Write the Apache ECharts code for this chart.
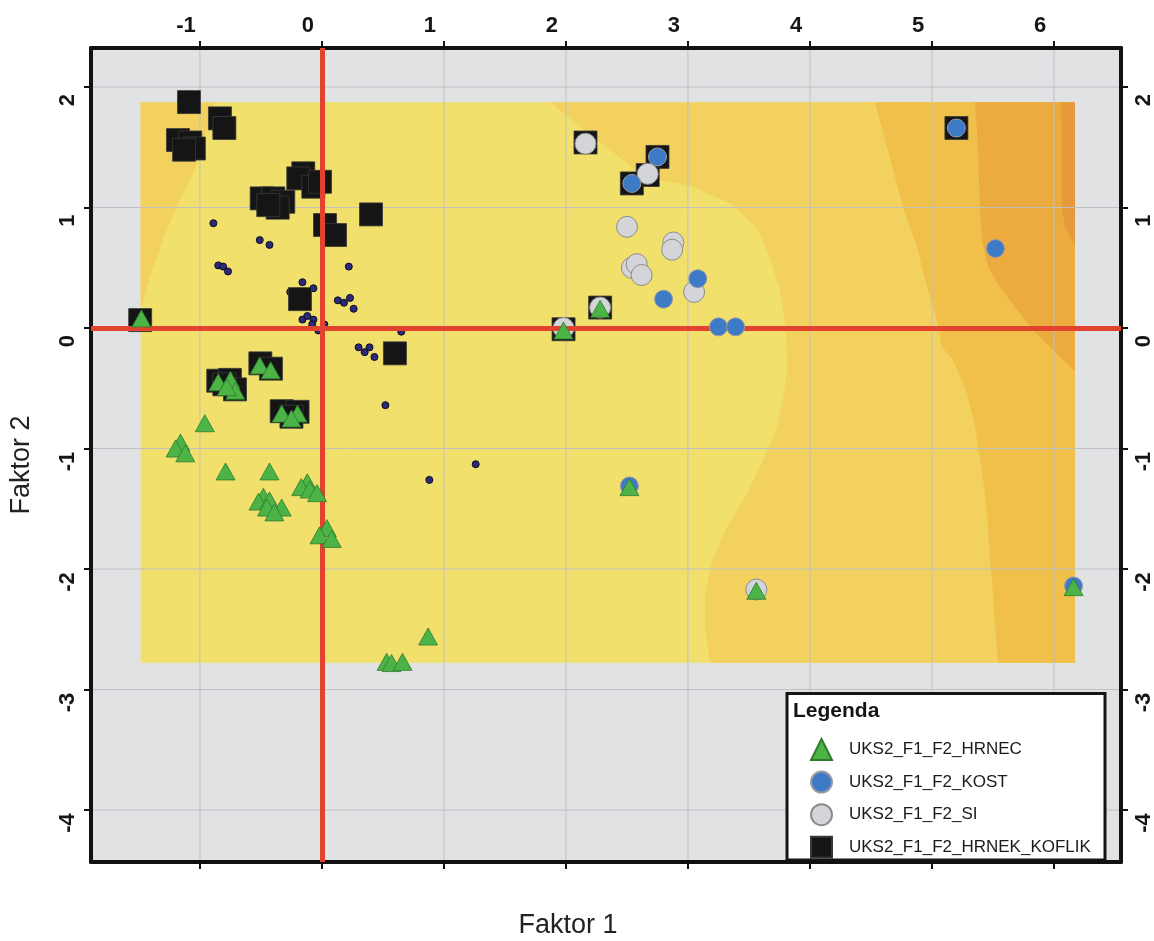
<!DOCTYPE html>
<html>
<head>
<meta charset="utf-8">
<script src="https://cdn.jsdelivr.net/npm/echarts@6/dist/echarts.min.js"></script>
<style>html,body{margin:0;padding:0;background:#fff;overflow:hidden}#chart{width:1154px;height:941px}</style>
</head>
<body>
<div id="chart"></div>
<script>
// ---------------- data ----------------
const X_MIN = -1.893, X_MAX = 6.549;
const Y_MIN = -4.431, Y_MAX = 2.324;
const xTickValues = [-1, 0, 1, 2, 3, 4, 5, 6];
const yTickValues = [-4, -3, -2, -1, 0, 1, 2];

const seriesNames = ['UKS2_F1_F2_HRNEC', 'UKS2_F1_F2_KOST', 'UKS2_F1_F2_SI', 'UKS2_F1_F2_HRNEK_KOFLIK'];

const hrnec = [
  [-1.48,0.08],[-0.51,-0.31],[-0.42,-0.35],[-0.85,-0.45],[-0.75,-0.43],[-0.71,-0.52],[-0.78,-0.49],
  [-0.33,-0.71],[-0.20,-0.71],[-0.25,-0.75],[-0.96,-0.79],[-1.16,-0.95],[-1.20,-1.00],[-1.12,-1.04],
  [-0.79,-1.19],[-0.43,-1.19],[-0.12,-1.28],[-0.17,-1.32],[-0.10,-1.34],[-0.04,-1.37],
  [-0.48,-1.40],[-0.52,-1.44],[-0.43,-1.43],[-0.33,-1.49],[-0.45,-1.49],[-0.39,-1.53],
  [0.04,-1.66],[-0.02,-1.72],[0.08,-1.75],[0.87,-2.56],[0.53,-2.77],[0.57,-2.78],[0.66,-2.77],
  [2.52,-1.32],[2.28,0.16],[1.98,-0.02],[3.56,-2.18],[6.16,-2.15]
];
const kost = [
  [2.75,1.42],[2.54,1.20],[3.08,0.41],[2.80,0.24],[3.25,0.01],[3.39,0.01],
  [5.20,1.66],[5.52,0.66],[2.52,-1.31],[6.16,-2.14]
];
const si = [
  [2.16,1.53],[2.67,1.28],[2.50,0.84],[2.88,0.71],[2.87,0.65],[2.54,0.50],[2.58,0.53],
  [2.62,0.44],[3.05,0.30],[2.28,0.17],[1.98,0.00],[3.56,-2.17]
];
const hrnekKoflik = [
  [-1.09,1.875],[-0.836,1.74],[-0.80,1.66],
  [-1.18,1.56],[-1.08,1.54],[-1.05,1.49],[-1.13,1.48],
  [-0.153,1.284],[-0.194,1.242],[-0.071,1.173],[-0.016,1.214],
  [-0.494,1.076],[-0.399,1.076],[-0.317,1.048],[-0.363,0.999],[-0.44,1.02],
  [0.025,0.855],[0.107,0.772],[0.402,0.943],[-0.18,0.24],[-1.49,0.066],[0.598,-0.21],
  [-0.505,-0.293],[-0.418,-0.337],[-0.85,-0.437],[-0.754,-0.43],[-0.713,-0.509],[-0.80,-0.467],
  [-0.33,-0.69],[-0.20,-0.695],[-0.25,-0.736],
  [2.16,1.54],[2.75,1.42],[2.67,1.27],[2.54,1.20],[2.28,0.17],[1.98,-0.01],[5.20,1.66]
];
const smallPoints = [
  [-0.89,0.87],[-0.51,0.73],[-0.43,0.69],[-0.85,0.52],[-0.81,0.51],[-0.77,0.47],[0.22,0.51],
  [-0.16,0.38],[-0.07,0.33],[-0.26,0.30],[0.13,0.23],[0.18,0.21],[0.23,0.25],[0.26,0.16],
  [-0.16,0.07],[-0.12,0.10],[-0.07,0.07],[-0.08,0.03],[-0.03,-0.02],[0.02,0.03],[0.65,-0.03],
  [0.30,-0.16],[0.35,-0.20],[0.39,-0.16],[0.43,-0.24],[0.52,-0.64],[0.88,-1.26],[1.26,-1.13]
];

// contour surface (data coordinates)
const surfaceExtent = [[-1.486,-2.777],[6.172,-2.777],[6.172,1.873],[-1.486,1.873]];
const band2TopLeft = [[-1.486,1.873],[-0.877,1.873],[-0.95,1.62],[-1.0,1.42],[-1.10,1.20],[-1.19,1.007],[-1.29,0.77],[-1.37,0.54],[-1.43,0.36],[-1.478,0.177],[-1.486,0.17]];
const boundary1 = [[1.869,1.873],[2.033,1.743],[2.197,1.602],[2.385,1.461],[2.566,1.311],[2.770,1.228],[3.016,1.178],
  [3.344,1.037],[3.566,0.830],[3.672,0.581],[3.754,0.315],[3.803,-0.017],[3.811,-0.349],[3.779,-0.598],
  [3.730,-0.822],[3.615,-1.095],[3.484,-1.369],[3.320,-1.651],[3.197,-1.925],[3.139,-2.199],[3.139,-2.481],[3.180,-2.777]];
const boundary2 = [[4.533,1.873],[4.631,1.502],[4.762,1.004],[4.877,0.672],[4.959,0.340],[5.041,0.066],[5.082,-0.158],
  [5.172,-0.266],[5.287,-0.539],[5.352,-0.822],[5.393,-1.095],[5.434,-1.369],[5.459,-1.651],[5.475,-1.925],
  [5.500,-2.199],[5.516,-2.481],[5.541,-2.777]];
const boundary3 = [[5.352,1.873],[5.377,1.502],[5.393,1.004],[5.410,0.730],[5.459,0.506],[5.557,0.340],[5.697,0.149],
  [5.828,-0.017],[5.967,-0.158],[6.074,-0.266],[6.172,-0.357]];
const boundary4 = [[6.055,1.873],[6.063,1.502],[6.063,1.004],[6.09,0.838],[6.145,0.730],[6.172,0.689]];
const surfaceColors = ['#f2e06c', '#f3d15e', '#f0c04b', '#ebab3f', '#e69a39'];

// ---------------- build ----------------
const polys = [
  { pts: [[X_MIN,Y_MIN],[X_MAX,Y_MIN],[X_MAX,Y_MAX],[X_MIN,Y_MAX]], color: '#e1e2e4' },
  { pts: surfaceExtent, color: surfaceColors[0] },
  { pts: band2TopLeft, color: surfaceColors[1] },
  { pts: boundary1.concat([[6.172,-2.777],[6.172,1.873]]), color: surfaceColors[1] },
  { pts: boundary2.concat([[6.172,-2.777],[6.172,1.873]]), color: surfaceColors[2] },
  { pts: boundary3.concat([[6.172,1.873]]), color: surfaceColors[3] },
  { pts: boundary4.concat([[6.172,1.873]]), color: surfaceColors[4] }
];

const FONT = "'Liberation Sans', Arial, Helvetica, sans-serif";
const chart = echarts.init(document.getElementById('chart'), null, { renderer: 'canvas' });

function axisBase(extra) {
  return Object.assign({
    type: 'value',
    axisLine: { show: true, onZero: false, lineStyle: { color: '#111', width: 4 } },
    axisTick: { show: true, inside: false, length: 7, lineStyle: { color: '#111', width: 2 } },
    splitLine: { show: false }
  }, extra);
}
const labelStyle = { fontFamily: FONT, fontWeight: 'bold', fontSize: 22, color: '#151515' };
const tick = vals => ({ show: true, inside: false, length: 7, customValues: vals, lineStyle: { color: '#111', width: 2 } });

const option = {
  animation: false,
  backgroundColor: '#ffffff',
  grid: { left: 91, right: 33, top: 48, bottom: 79, containLabel: false, outerBoundsMode: 'none' },
  xAxis: [
    axisBase({ position: 'top', min: X_MIN, max: X_MAX, axisTick: tick(xTickValues),
      axisLabel: Object.assign({ show: true, margin: 11, customValues: xTickValues, padding: [0, 28, 0, 0],
        formatter: v => String(v) }, labelStyle) }),
    axisBase({ position: 'bottom', min: X_MIN, max: X_MAX, axisTick: tick(xTickValues),
      axisLabel: { show: false } })
  ],
  yAxis: [
    axisBase({ position: 'left', min: Y_MIN, max: Y_MAX, axisTick: tick(yTickValues),
      axisLabel: Object.assign({ show: true, rotate: 90, margin: 12, customValues: yTickValues, padding: [0, 26, 0, 0],
        formatter: v => String(v) }, labelStyle) }),
    axisBase({ position: 'right', min: Y_MIN, max: Y_MAX, axisTick: tick(yTickValues),
      axisLabel: Object.assign({ show: true, rotate: 90, margin: 12, customValues: yTickValues, padding: [0, 26, 0, 0],
        formatter: v => String(v) }, labelStyle) })
  ],
  legend: {
    data: seriesNames,
    orient: 'vertical',
    left: 805, top: 733,
    itemWidth: 21, itemHeight: 21, itemGap: 9.6,
    selectedMode: false,
    z: 100,
    textStyle: { fontFamily: FONT, fontSize: 17, color: '#1a1a1a', padding: [0, 0, 0, 12] }
  },
  graphic: [
    { type: 'rect', z: 90, shape: { x: 787, y: 693.5, width: 318, height: 166.5 },
      style: { fill: '#ffffff', stroke: '#141414', lineWidth: 3 } },
    { type: 'text', z: 91, x: 793, y: 711,
      style: { text: 'Legenda', font: "bold 21px " + FONT, fill: '#141414', textVerticalAlign: 'middle' } },
    { type: 'text', x: 568, y: 926,
      style: { text: 'Faktor 1', font: "27px " + FONT, fill: '#222', textAlign: 'center', textVerticalAlign: 'middle' } },
    { type: 'text', x: 22, y: 465, rotation: Math.PI / 2,
      style: { text: 'Faktor 2', font: "27px " + FONT, fill: '#222', textAlign: 'center', textVerticalAlign: 'middle' } }
  ],
  series: [
    {
      type: 'custom', name: 'surface', z: -1, silent: true, clip: false,
      xAxisIndex: 0, yAxisIndex: 0,
      data: [[0, 0]],
      renderItem: function (params, api) {
        const children = polys.map(p => ({
          type: 'polygon', shape: { points: p.pts.map(pt => api.coord(pt)) }, style: { fill: p.color }
        }));
        xTickValues.forEach(v => {
          const a = api.coord([v, Y_MIN]), b = api.coord([v, Y_MAX]);
          children.push({ type: 'line', shape: { x1: a[0], y1: a[1], x2: b[0], y2: b[1] },
            style: { stroke: '#bfc1c4', lineWidth: 1 } });
        });
        yTickValues.forEach(v => {
          const a = api.coord([X_MIN, v]), b = api.coord([X_MAX, v]);
          children.push({ type: 'line', shape: { x1: a[0], y1: a[1], x2: b[0], y2: b[1] },
            style: { stroke: '#bfc1c4', lineWidth: 1 } });
        });
        return { type: 'group', children: children };
      }
    },
    {
      type: 'scatter', name: 'points', z: 2, data: smallPoints, symbol: 'circle', symbolSize: 7,
      itemStyle: { color: '#2c2a78', borderColor: '#0a0a20', borderWidth: 1, opacity: 1 }
    },
    {
      type: 'scatter', name: seriesNames[3], z: 3, data: hrnekKoflik, symbol: 'rect', symbolSize: 23,
      itemStyle: { color: '#151515', borderColor: '#3a3a3a', borderWidth: 0.8, opacity: 1 }
    },
    {
      type: 'scatter', name: seriesNames[2], z: 4, data: si, symbol: 'circle', symbolSize: 21,
      itemStyle: { color: '#d4d5d9', borderColor: '#8c8c8c', borderWidth: 1, opacity: 1 }
    },
    {
      type: 'scatter', name: seriesNames[1], z: 5, data: kost, symbol: 'circle', symbolSize: 18,
      itemStyle: { color: '#3e7bc7', borderColor: '#9a9aa2', borderWidth: 1, opacity: 1 }
    },
    {
      type: 'scatter', name: seriesNames[0], z: 6, data: hrnec, symbol: 'triangle', symbolSize: [19, 17],
      itemStyle: { color: '#4cb447', borderColor: '#2f7a2c', borderWidth: 0.8, opacity: 1 }
    },
    {
      type: 'scatter', name: 'axes0', z: 7, data: [], silent: true,
      markLine: {
        silent: true, symbol: ['none', 'none'], label: { show: false },
        lineStyle: { color: '#e2432f', width: 5, type: 'solid' },
        data: [{ xAxis: 0 }, { yAxis: 0 }]
      }
    }
  ]
};
chart.setOption(option);
</script>
</body>
</html>
